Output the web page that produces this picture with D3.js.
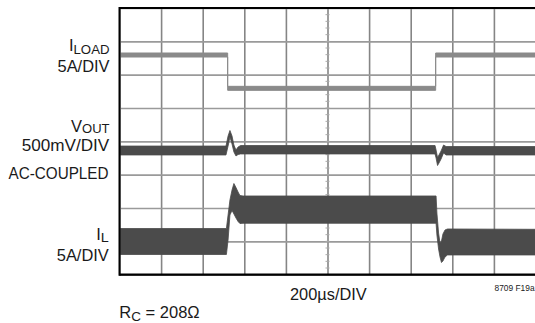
<!DOCTYPE html>
<html><head><meta charset="utf-8">
<script src="https://cdn.jsdelivr.net/npm/d3@7/dist/d3.min.js"></script>
<style>
html,body{margin:0;padding:0;background:#fff;}
svg{display:block;font-family:"Liberation Sans",Arial,sans-serif;}
</style></head>
<body>
<script>
// ---------- DATA ----------
// time axis: 200 µs/DIV, 10 divisions
const timeRangeUs = [0, 2000];
const gridTimeUs = [0, 200, 400, 600, 800, 1000, 1200, 1400, 1600, 1800, 2000];
const gridDivs = [-4, -3, -2, -1, 0, 1, 2, 3, 4];

// I_LOAD trace (A), 5A/DIV
const iLoadTimeUs = [0, 520, 520, 1520, 1520, 2000];
const iLoadAmps   = [10, 10, 5, 5, 10, 10];

// V_OUT trace (mV, AC-coupled), 500mV/DIV : upper / lower envelope of the trace
const vOutTimeUs = [0, 512, 522, 531, 541, 550, 560, 570, 582, 1517, 1522, 1529, 1536, 1546, 1558, 1570, 2000];
const vOutHiMv   = [67, 67, 217, 300, 217, 82, 7, 52, 75, 75, 7, -105, -67, -7, 82, 60, 60];
const vOutLoMv   = [-67, -67, 67, 202, 97, -22, -82, -60, -52, -52, -112, -225, -187, -127, -37, -67, -67];

// I_L inductor current (A), 5A/DIV : upper / lower envelope of the ripple band
const iLTimeUs = [0, 514, 522, 531, 541, 550, 560, 570, 579, 594, 1522, 1526, 1534, 1541, 1548, 1555, 1565, 1577, 2000];
const iLHiAmps = [6.95, 6.95, 8.98, 11.23, 12.73, 13.7, 13.1, 12.43, 11.9, 11.83, 11.83, 9.28, 6.28, 4.78, 5.08, 6.13, 6.73, 6.88, 6.83];
const iLLoAmps = [3.05, 3.05, 5.23, 8.98, 9.65, 9.13, 8.53, 8.0, 7.7, 7.73, 7.73, 5.98, 3.88, 2.68, 1.85, 2.08, 2.68, 2.98, 2.98];

// ---------- CHART ----------
const W = 535, H = 323;
const svg = d3.select("body").append("svg").attr("width", W).attr("height", H);

const pL = 119.5, pR = 535.5, pT = 8, pB = 274.67;
const x = d3.scaleLinear().domain(timeRangeUs).range([pL, pR]);
const yDiv = d3.scaleLinear().domain([-4, 4]).range([pB, pT]);

// channel scales: value -> screen division
const yILoad = a => yDiv(a / 5 + 0.59);
const yVout  = mv => yDiv(mv / 500 - 0.275);
const yIL    = a => yDiv((a - 5) / 5 - 3.005);

svg.append("clipPath").attr("id", "plot")
  .append("rect").attr("x", pL).attr("y", pT).attr("width", pR - pL).attr("height", pB - pT);

// grid via axes
const gx = svg.append("g").attr("transform", `translate(0,${pB})`)
  .call(d3.axisBottom(x).tickValues(gridTimeUs).tickSize(-(pB - pT)).tickFormat(""));
gx.select(".domain").remove();
gx.selectAll(".tick line").attr("stroke", "#858585").attr("stroke-width", 1.6);

const gy = svg.append("g").attr("transform", `translate(${pL},0)`)
  .call(d3.axisLeft(yDiv).tickValues(gridDivs).tickSize(-(pR - pL)).tickFormat(""));
gy.select(".domain").remove();
gy.selectAll(".tick line").attr("stroke", "#9a9a9a").attr("stroke-width", 1.6);

// minor ticks on centre vertical graticule line
const minor = d3.range(-4, 4.01, 0.2);
svg.append("g").selectAll("line").data(minor).join("line")
  .attr("x1", x(1000) - 2).attr("x2", x(1000) + 2)
  .attr("y1", d => yDiv(d)).attr("y2", d => yDiv(d))
  .attr("stroke", "#aaa").attr("stroke-width", 1);

const traces = svg.append("g").attr("clip-path", "url(#plot)");

// I_LOAD
const iLoadData = iLoadTimeUs.map((t, i) => ({t, v: iLoadAmps[i]}));
traces.append("path").datum(iLoadData)
  .attr("d", d3.area().x(d => x(d.t)).y0(d => yILoad(d.v) + 2).y1(d => yILoad(d.v) - 2))
  .attr("fill", "#8a8a8a").attr("stroke", "#8a8a8a").attr("stroke-width", 1);

// V_OUT
const vData = vOutTimeUs.map((t, i) => ({t, hi: vOutHiMv[i], lo: vOutLoMv[i]}));
traces.append("path").datum(vData)
  .attr("d", d3.area().x(d => x(d.t)).y0(d => yVout(d.lo)).y1(d => yVout(d.hi)))
  .attr("fill", "#4b4b4b").attr("stroke", "#4b4b4b").attr("stroke-width", 0.8);

// I_L
const iData = iLTimeUs.map((t, i) => ({t, hi: iLHiAmps[i], lo: iLLoAmps[i]}));
traces.append("path").datum(iData)
  .attr("d", d3.area().x(d => x(d.t)).y0(d => yIL(d.lo)).y1(d => yIL(d.hi)))
  .attr("fill", "#4b4b4b").attr("stroke", "#4b4b4b").attr("stroke-width", 0.8);

// frame
svg.append("line").attr("x1", pL).attr("x2", pR + 2).attr("y1", pT).attr("y2", pT)
  .attr("stroke", "#000").attr("stroke-width", 2.2);
svg.append("line").attr("x1", pL).attr("x2", pR + 2).attr("y1", pB).attr("y2", pB)
  .attr("stroke", "#000").attr("stroke-width", 2.2);
svg.append("line").attr("x1", pL).attr("x2", pL).attr("y1", pT - 1.1).attr("y2", pB + 1.1)
  .attr("stroke", "#000").attr("stroke-width", 2);

// ---------- TEXT ----------
const ink = "#1a1a1a";
function label(lines) {
  const t = svg.append("text").attr("fill", ink);
  lines.forEach(l => {
    if (l.sub) {
      t.append("tspan").attr("x", l.xr).attr("y", l.y).attr("text-anchor", "end")
        .attr("font-size", 16.5).text(l.main);
      t.append("tspan").attr("dy", l.dy).attr("font-size", 13).text(l.sub)
        .attr("textLength", l.subLen).attr("lengthAdjust", "spacingAndGlyphs");
    } else {
      t.append("tspan").attr("x", l.x).attr("y", l.y).attr("text-anchor", "start")
        .attr("font-size", 16).text(l.main)
        .attr("textLength", l.len).attr("lengthAdjust", "spacingAndGlyphs");
    }
  });
  return t;
}

label([
  {xr: 109.5, y: 51.2, main: "I", sub: "LOAD", subLen: 36, dy: 2.6},
  {x: 57.5, y: 72, main: "5A/DIV", len: 52}
]);
label([
  {xr: 109.5, y: 131.5, main: "V", sub: "OUT", subLen: 27.5, dy: 1.4},
  {x: 21.7, y: 150.5, main: "500mV/DIV", len: 87.6},
  {x: 8.5, y: 179, main: "AC-COUPLED", len: 100}
]);
label([
  {xr: 108.8, y: 239.5, main: "I", sub: "L", subLen: 8, dy: 2.8},
  {x: 56.8, y: 260.5, main: "5A/DIV", len: 52}
]);

svg.append("text").attr("x", 290).attr("y", 299.5).attr("font-size", 16.5).attr("fill", ink)
  .attr("textLength", 76.7).attr("lengthAdjust", "spacingAndGlyphs").text("200µs/DIV");
svg.append("text").attr("x", 494.5).attr("y", 290.7).attr("font-size", 8.4).attr("fill", ink)
  .text("8709 F19a");

const rc = svg.append("text").attr("x", 119.3).attr("y", 317.5).attr("fill", ink);
rc.append("tspan").attr("font-size", 16.5).text("R");
rc.append("tspan").attr("font-size", 13.5).attr("dy", 3.5).text("C");
rc.append("tspan").attr("font-size", 16.5).attr("dy", -3.5).text(" = 208Ω");
</script>
</body></html>
